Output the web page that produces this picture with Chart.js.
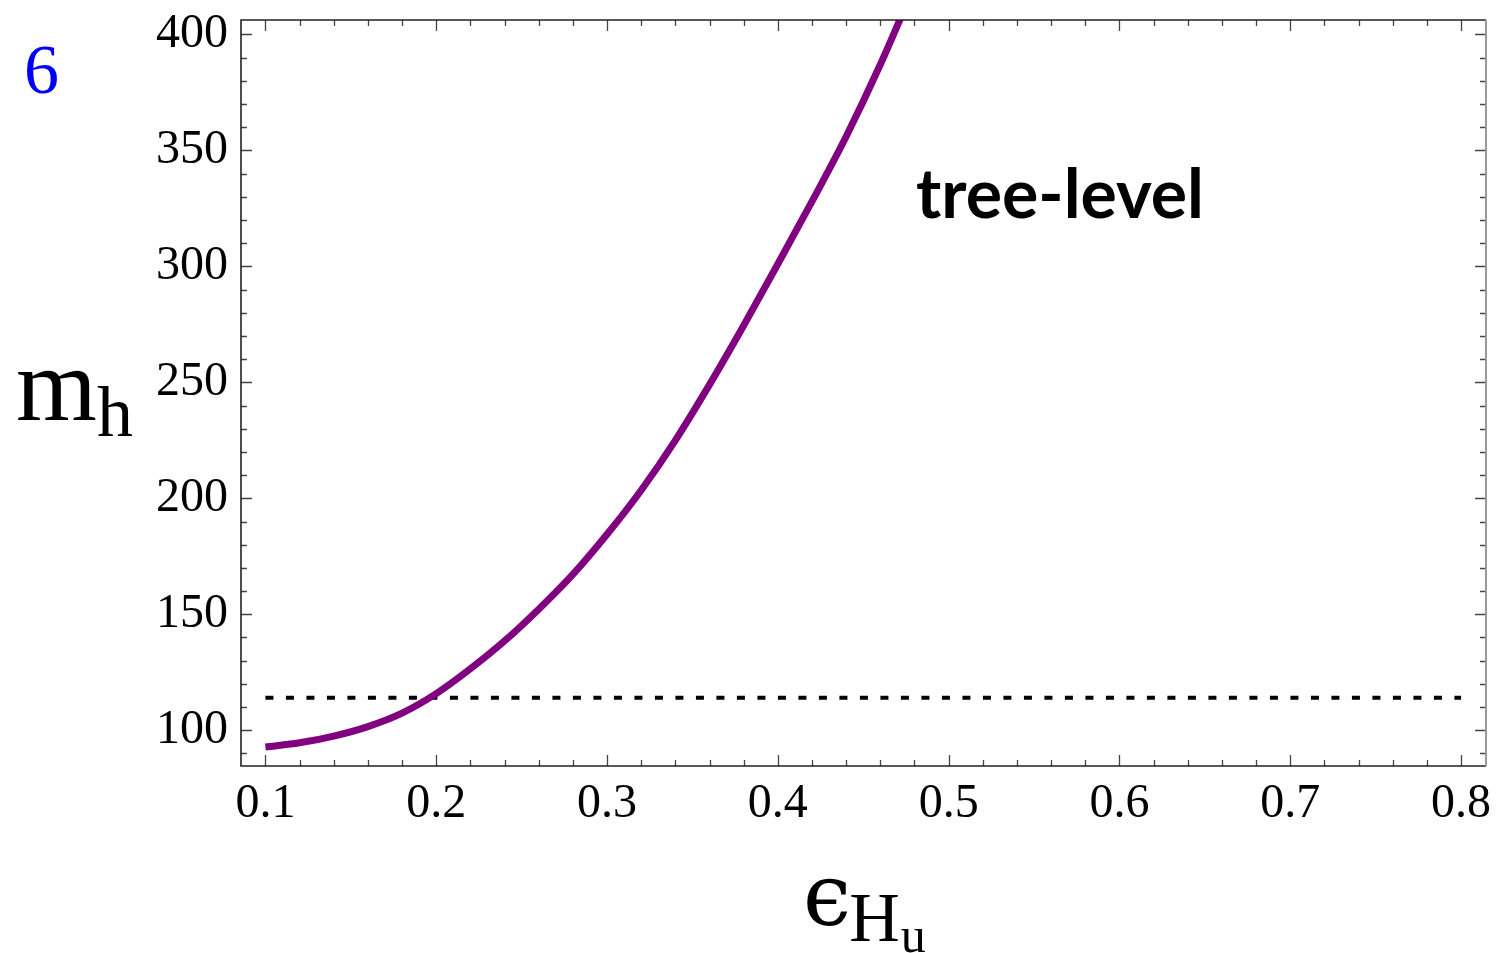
<!DOCTYPE html>
<html>
<head>
<meta charset="utf-8">
<script src="https://cdn.jsdelivr.net/npm/chart.js@4"></script>
<style>
  body { margin: 0; background: #fff; }
  canvas { display: block; }
</style>
</head>
<body>
<canvas id="graphe" width="1497" height="953"></canvas>
<script>
// valeurs
const epsValeurs = [0.10, 0.12, 0.14, 0.16, 0.18, 0.20, 0.22, 0.24, 0.26, 0.28, 0.30,
                    0.32, 0.34, 0.36, 0.38, 0.40, 0.42, 0.44, 0.46, 0.48];
const mhValeurs = [92.8, 94.6, 97.5, 101.6, 107.4, 115.8, 126.5, 138.5, 152.2, 167.2, 184.5,
                   203.5, 225, 249, 274.5, 301, 328, 356, 387, 421];
const limiteX = [0.1, 0.8];
const limiteY = [114, 114];

const ticksX = [0.1, 0.2, 0.3, 0.4, 0.5, 0.6, 0.7, 0.8];
const ticksY = [100, 150, 200, 250, 300, 350, 400];
const mineursX = [];
for (let i = 0; i <= 35; i++) mineursX.push(Math.round((0.1 + i * 0.02) * 100) / 100);
const mineursY = [];
for (let v = 90; v <= 400; v += 10) mineursY.push(v);

const serif = "'Liberation Serif', 'DejaVu Serif', serif";

const courbe = epsValeurs.map((x, i) => ({ x: x, y: mhValeurs[i] }));
const ligne = limiteX.map((x, i) => ({ x: x, y: limiteY[i] }));

// cadre, ticks interieurs et textes
const decor = {
  id: 'decor',
  afterDatasetsDraw(chart) {
    const ctx = chart.ctx;
    const a = chart.chartArea;
    const sx = chart.scales.x;
    const sy = chart.scales.y;
    ctx.save();

    // ticks
    ctx.strokeStyle = '#444';
    ctx.lineWidth = 1.3;
    ctx.beginPath();
    mineursX.forEach(v => {
      const px = Math.round(sx.getPixelForValue(v)) + 0.5;
      const maj = ticksX.some(t => Math.abs(t - v) < 1e-6);
      const l = maj ? 11 : 6;
      ctx.moveTo(px, a.bottom); ctx.lineTo(px, a.bottom - l);
      ctx.moveTo(px, a.top); ctx.lineTo(px, a.top + l);
    });
    mineursY.forEach(v => {
      const py = Math.round(sy.getPixelForValue(v)) + 0.5;
      const maj = ticksY.includes(v);
      const l = maj ? 11 : 6;
      ctx.moveTo(a.left, py); ctx.lineTo(a.left + l, py);
      ctx.moveTo(a.right, py); ctx.lineTo(a.right - l, py);
    });
    ctx.stroke();

    // cadre
    ctx.lineWidth = 1.6;
    ctx.strokeStyle = '#222';
    ctx.beginPath();
    ctx.moveTo(a.right, a.top);
    ctx.lineTo(a.left, a.top);
    ctx.lineTo(a.left, a.bottom);
    ctx.lineTo(a.right, a.bottom);
    ctx.stroke();
    ctx.strokeStyle = '#999';
    ctx.lineWidth = 2;
    ctx.beginPath();
    ctx.moveTo(a.right, a.top);
    ctx.lineTo(a.right, a.bottom);
    ctx.stroke();

    // textes
    ctx.textAlign = 'left';
    ctx.textBaseline = 'alphabetic';
    ctx.fillStyle = '#0000ff';
    ctx.font = '70px ' + serif;
    ctx.fillText('6', 24, 93);

    ctx.fillStyle = '#000';
    ctx.font = '104px ' + serif;
    ctx.fillText('m', 16, 420);
    const wm = ctx.measureText('m').width;
    ctx.font = '72px ' + serif;
    ctx.fillText('h', 16 + wm, 436);

    ctx.font = "86px 'DejaVu Serif', serif";
    ctx.fillText('ϵ', 803, 925);
    const we = ctx.measureText('ϵ').width;
    ctx.font = '70px ' + serif;
    ctx.fillText('H', 803 + we - 2, 941);
    const wh = ctx.measureText('H').width;
    ctx.font = '50px ' + serif;
    ctx.fillText('u', 803 + we - 2 + wh + 1, 952);

    ctx.font = "bold 68px Lato, 'Open Sans', sans-serif";
    ctx.fillText('tree-level', 916, 218);

    ctx.restore();
  }
};

new Chart(document.getElementById('graphe'), {
  type: 'scatter',
  data: {
    datasets: [
      {
        data: courbe,
        showLine: true,
        borderColor: '#800080',
        borderWidth: 7,
        pointRadius: 0,
        cubicInterpolationMode: 'monotone'
      },
      {
        data: ligne,
        showLine: true,
        borderColor: '#000',
        borderWidth: 4,
        borderDash: [8, 12.5],
        pointRadius: 0
      }
    ]
  },
  options: {
    responsive: false,
    animation: false,
    layout: { padding: { left: 0, top: 20, right: 11, bottom: 0 } },
    plugins: { legend: { display: false }, tooltip: { enabled: false } },
    scales: {
      x: {
        type: 'linear',
        min: 0.0857,
        max: 0.8146,
        afterBuildTicks: s => { s.ticks = ticksX.map(v => ({ value: v })); },
        afterFit: s => { s.height = 187; s.paddingLeft = 0; s.paddingRight = 0; },
        grid: { display: false, drawTicks: false },
        border: { display: false },
        ticks: {
          color: '#000',
          padding: 10,
          maxRotation: 0,
          font: { family: serif, size: 48 },
          callback: v => v.toFixed(1)
        }
      },
      y: {
        type: 'linear',
        min: 84.6,
        max: 406.2,
        afterBuildTicks: s => { s.ticks = ticksY.map(v => ({ value: v })); },
        afterFit: s => { s.width = 241; s.paddingTop = 0; s.paddingBottom = 0; },
        grid: { display: false, drawTicks: false },
        border: { display: false },
        ticks: {
          color: '#000',
          padding: 13,
          font: { family: serif, size: 48 },
          callback: v => String(v)
        }
      }
    }
  },
  plugins: [decor]
});
</script>
</body>
</html>
